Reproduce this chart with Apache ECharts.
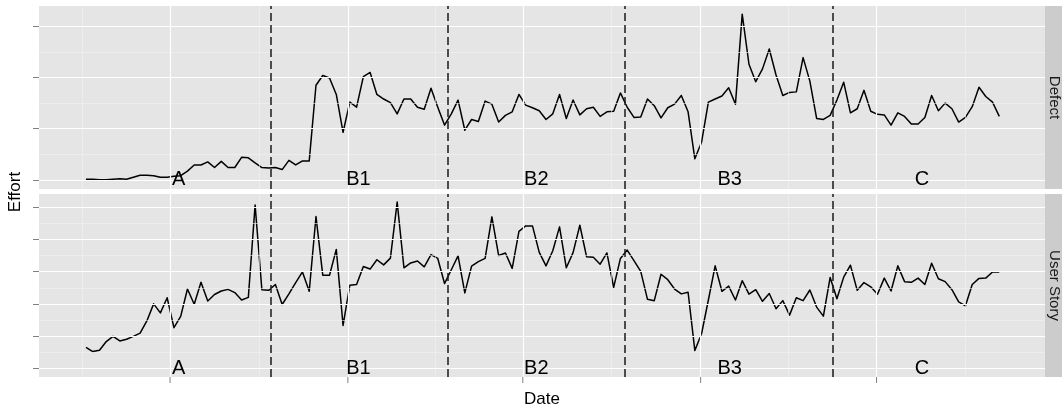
<!DOCTYPE html>
<html><head><meta charset="utf-8">
<script src="https://cdn.jsdelivr.net/npm/echarts@6/dist/echarts.min.js"></script>
<style>html,body{margin:0;padding:0;background:#fff}#c{width:1062px;height:408px}</style>
</head><body><div id="c"></div>
<script>
// ---------- data ----------
const startDate = '2010-04-05';            // first weekly observation
const facetNames = ['Defect', 'User Story'];
const defect = [0.01,0.01,0.00,0.00,0.01,0.02,0.01,0.05,0.09,0.09,
0.08,0.05,0.05,0.07,0.08,0.17,0.29,0.29,0.35,0.24,
0.36,0.24,0.24,0.44,0.43,0.33,0.24,0.23,0.24,0.20,
0.38,0.29,0.37,0.37,1.85,2.04,1.99,1.67,0.93,1.52,
1.42,2.02,2.10,1.67,1.58,1.51,1.29,1.58,1.58,1.42,
1.38,1.79,1.42,1.07,1.29,1.56,0.97,1.18,1.14,1.54,
1.48,1.13,1.26,1.33,1.67,1.46,1.41,1.35,1.18,1.29,
1.67,1.20,1.56,1.27,1.39,1.42,1.24,1.33,1.34,1.70,
1.42,1.22,1.23,1.58,1.45,1.21,1.41,1.48,1.65,1.33,
0.41,0.74,1.52,1.58,1.64,1.80,1.48,3.24,2.26,1.92,
2.17,2.56,2.05,1.65,1.71,1.72,2.39,1.93,1.20,1.18,
1.26,1.56,1.91,1.31,1.39,1.75,1.34,1.28,1.27,1.07,
1.31,1.24,1.09,1.09,1.22,1.65,1.35,1.50,1.39,1.13,
1.22,1.43,1.81,1.63,1.52,1.24];
const userStory = [0.65,0.52,0.56,0.83,0.99,0.85,0.90,0.99,1.09,1.47,
2.00,1.72,2.19,1.26,1.61,2.46,1.99,2.67,2.09,2.29,
2.40,2.45,2.35,2.12,2.20,5.07,2.44,2.42,2.60,1.98,
2.31,2.66,2.99,2.39,4.71,2.89,2.89,3.69,1.33,2.58,
2.60,3.16,3.08,3.37,3.21,3.42,5.16,3.12,3.27,3.33,
3.15,3.53,3.41,2.63,3.06,3.49,2.34,3.17,3.31,3.41,
4.70,3.50,3.58,3.10,4.25,4.42,4.42,3.60,3.18,3.65,
4.39,3.12,3.59,4.44,3.46,3.45,3.23,3.58,2.51,3.41,
3.67,3.34,3.01,2.14,2.10,2.92,2.75,2.46,2.31,2.36,
0.55,1.08,2.12,3.18,2.39,2.55,2.12,2.72,2.30,2.44,
2.08,2.32,1.85,2.10,1.65,2.19,2.10,2.43,1.90,1.62,
2.82,2.16,2.83,3.20,2.42,2.66,2.53,2.30,2.80,2.40,
3.18,2.69,2.67,2.80,2.60,3.26,2.78,2.69,2.44,2.06,
1.94,2.60,2.79,2.80,2.99,2.99];
const phaseBoundaries = ['2010-10-13','2011-04-14','2011-10-14','2012-05-17'];
const phaseNames = ['A','B1','B2','B3','C'];
const phaseCenters = ['2010-07-10','2011-01-12','2011-07-15','2012-01-31','2012-08-17'];
const xMajorBreaks = ['2010-07-01','2011-01-01','2011-07-01','2012-01-01','2012-07-01'];
const xMinorBreaks = ['2010-04-01','2010-10-01','2011-04-01','2011-10-01','2012-04-01','2012-10-01'];
const yMajorBreaks = [[0,1,2,3],[0,1,2,3,4,5]];
const yMinorBreaks = [[0.5,1.5,2.5],[0.5,1.5,2.5,3.5,4.5]];

// ---------- build ----------
const DAY = 86400000;
function ts(s){ const p = s.split('-').map(Number); return Date.UTC(p[0], p[1]-1, p[2]); }
const t0 = ts(startDate);
const dates = defect.map((_, i) => t0 + i * 7 * DAY);
const xMin = t0 - 48.6 * DAY, xMax = t0 + 992.3 * DAY;
const yRange = [[-0.18, 3.40], [-0.27, 5.41]];
const seriesVals = [defect, userStory];

const FONT = "'Liberation Sans', Arial, sans-serif";
const gridTops = [6, 194];
const PANEL_H = 183, LEFT = 39, PANEL_W = 1006;

const grids = [], xAxes = [], yAxes = [], series = [], graphics = [];
const minorStyle = {color:'#F2F2F2', width:0.6, type:'solid'};
const majorStyle = {color:'#FFFFFF', width:1.2, type:'solid'};

for (let g = 0; g < 2; g++) {
  grids.push({left: LEFT, top: gridTops[g], width: PANEL_W, height: PANEL_H,
    show: true, backgroundColor: '#E5E5E5', borderWidth: 0});
  xAxes.push({type:'time', gridIndex:g, min:xMin, max:xMax,
    axisLine:{show:false}, splitLine:{show:false}, axisLabel:{show:false}, axisTick:{show:false}});
  yAxes.push({type:'value', gridIndex:g, min:yRange[g][0], max:yRange[g][1],
    axisLine:{show:false}, splitLine:{show:false}, axisLabel:{show:false},
    axisTick:{show:true, length:6, lineStyle:{color:'#7F7F7F', width:1},
      customValues: yMajorBreaks[g]}});

  const gl = [];
  xMinorBreaks.forEach(d => gl.push({xAxis: ts(d), lineStyle: minorStyle}));
  yMinorBreaks[g].forEach(v => gl.push({yAxis: v, lineStyle: minorStyle}));
  xMajorBreaks.forEach(d => gl.push({xAxis: ts(d), lineStyle: majorStyle}));
  yMajorBreaks[g].forEach(v => gl.push({yAxis: v, lineStyle: majorStyle}));
  series.push({type:'line', xAxisIndex:g, yAxisIndex:g, data:[], z:1, silent:true,
    markLine:{silent:true, symbol:['none','none'], label:{show:false}, animation:false,
      emphasis:{disabled:true}, data: gl}});

  series.push({type:'line', name: facetNames[g], xAxisIndex:g, yAxisIndex:g, z:3,
    data: dates.map((d, i) => [d, seriesVals[g][i]]),
    symbol:'none', lineStyle:{color:'#000', width:1.5, join:'round'}, animation:false,
    markLine:{silent:true, symbol:['none','none'], label:{show:false}, animation:false,
      emphasis:{disabled:true},
      lineStyle:{color:'#1A1A1A', width:1.5, type:[8,4]},
      data: phaseBoundaries.map(d => ({xAxis: ts(d)}))}});

  // phase labels, placed at y = 0 through the axes
  series.push({type:'custom', xAxisIndex:g, yAxisIndex:g, z:5, silent:true, animation:false,
    data: phaseNames.map((n, i) => [ts(phaseCenters[i]), 0]),
    renderItem: (params, api) => {
      const p = api.coord([api.value(0), api.value(1)]);
      return {type:'text', x:p[0], y:p[1],
        style:{text: phaseNames[params.dataIndex], fill:'#000', font:`20px ${FONT}`,
          align:'center', verticalAlign:'middle'}};
    }});

  graphics.push({type:'rect', shape:{x: LEFT + PANEL_W, y: gridTops[g], width: 20, height: PANEL_H},
    style:{fill:'#CCCCCC'}, silent:true});
  graphics.push({type:'text', x: LEFT + PANEL_W + 9, y: gridTops[g] + PANEL_H/2, rotation: -Math.PI/2,
    style:{text: facetNames[g], font: `15px ${FONT}`, fill:'#1A1A1A', align:'center', verticalAlign:'middle'}, silent:true});
}
// x-axis ticks under the bottom panel
series.push({type:'custom', xAxisIndex:1, yAxisIndex:1, clip:false, silent:true, animation:false, z:5,
  data: xMajorBreaks.map(d => [ts(d), yRange[1][0]]),
  renderItem: (params, api) => {
    const p = api.coord([api.value(0), api.value(1)]);
    return {type:'line', shape:{x1:p[0], y1:p[1], x2:p[0], y2:p[1] + 6},
      style:{stroke:'#7F7F7F', lineWidth:1}};
  }});

graphics.push({type:'text', x: 15, y: 192, rotation: Math.PI/2,
  style:{text:'Effort', font:`17px ${FONT}`, fill:'#000', align:'center', verticalAlign:'middle'}});
graphics.push({type:'text', x: LEFT + PANEL_W/2, y: 399,
  style:{text:'Date', font:`17px ${FONT}`, fill:'#000', align:'center', verticalAlign:'middle'}});

const chart = echarts.init(document.getElementById('c'), null, {renderer:'canvas'});
chart.setOption({
  animation:false, useUTC:true, backgroundColor:'#fff',
  grid: grids, xAxis: xAxes, yAxis: yAxes, series: series, graphic: graphics
});
</script></body></html>
